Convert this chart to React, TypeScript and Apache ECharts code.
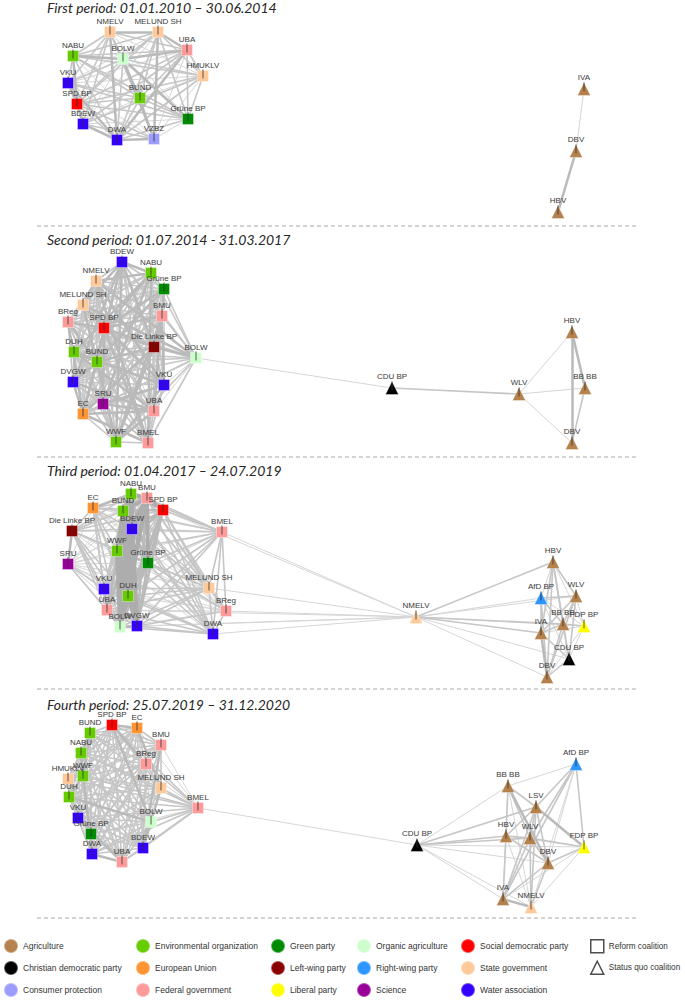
import React, { useEffect, useRef } from "react";
import * as echarts from "echarts";

// ---------- categories ----------
const categories = [
  "Agriculture", "Christian democratic party", "Consumer protection",
  "Environmental organization", "European Union", "Federal government",
  "Green party", "Left-wing party", "Liberal party",
  "Organic agriculture", "Right-wing party", "Science",
  "Social democratic party", "State government", "Water association",
];
const categoryColors = [
  "#B5824D", "#000000", "#9C9CFF",
  "#66CC00", "#FF9433", "#FF9A9A",
  "#008C00", "#8B0000", "#FFFF00",
  "#CCFFCC", "#2E97FF", "#990099",
  "#FF0000", "#FFC999", "#3300FF",
];

const actorType: Record<string, string> = {
  "NMELV": "State government", "MELUND SH": "State government", "HMUKLV": "State government",
  "NABU": "Environmental organization", "BUND": "Environmental organization",
  "DUH": "Environmental organization", "WWF": "Environmental organization",
  "BOLW": "Organic agriculture",
  "UBA": "Federal government", "BMU": "Federal government", "BReg": "Federal government", "BMEL": "Federal government",
  "VKU": "Water association", "BDEW": "Water association", "DWA": "Water association", "DVGW": "Water association",
  "SPD BP": "Social democratic party", "Grüne BP": "Green party", "VZBZ": "Consumer protection",
  "Die Linke BP": "Left-wing party", "SRU": "Science", "EC": "European Union",
  "IVA": "Agriculture", "DBV": "Agriculture", "HBV": "Agriculture", "WLV": "Agriculture",
  "BB BB": "Agriculture", "LSV": "Agriculture",
  "CDU BP": "Christian democratic party", "AfD BP": "Right-wing party", "FDP BP": "Liberal party",
};

// ---------- period titles ----------
const periodTitles = [
  "First period: 01.01.2010 \u2013 30.06.2014",
  "Second period: 01.07.2014 - 31.03.2017",
  "Third period: 01.04.2017 \u2013 24.07.2019",
  "Fourth period: 25.07.2019 \u2013 31.12.2020",
];

// ---------- layout coordinates of actors: [name, x, y, coalition R=reform S=status quo] ----------
type NodeRow = [string, number, number, "R" | "S"];
type EdgeRow = [string, string, number];

const period1Nodes: NodeRow[] = [
  ["NMELV", 110, 32, "R"], ["MELUND SH", 158, 32, "R"], ["NABU", 73, 56, "R"],
  ["BOLW", 123, 59, "R"], ["UBA", 187, 50, "R"], ["HMUKLV", 203, 76, "R"],
  ["VKU", 68, 83, "R"], ["SPD BP", 77, 104, "R"], ["BUND", 140, 98, "R"],
  ["Grüne BP", 188, 119, "R"], ["BDEW", 83, 124, "R"], ["DWA", 117, 140, "R"],
  ["VZBZ", 154, 139, "R"],
  ["IVA", 584, 89, "S"], ["DBV", 576, 151, "S"], ["HBV", 558, 212, "S"],
];
const period1Cluster = ["NMELV", "MELUND SH", "NABU", "BOLW", "UBA", "HMUKLV", "VKU", "SPD BP", "BUND", "Grüne BP", "BDEW", "DWA", "VZBZ"];
// upper-triangle tie strengths (0 = no tie)
const period1Ties = [
  "322212221232", "22321222123", "3222322121", "322223123", "21222231",
  "1212221", "322131", "22322", "2122", "121", "32", "3",
];
const period1Extra: EdgeRow[] = [["IVA", "DBV", 1], ["DBV", "HBV", 3]];

const period2Nodes: NodeRow[] = [
  ["BDEW", 122, 262, "R"], ["NABU", 151, 273, "R"], ["Grüne BP", 164, 289, "R"],
  ["NMELV", 96, 281, "R"], ["MELUND SH", 83, 305, "R"], ["BMU", 162, 316, "R"],
  ["BReg", 68, 322, "R"], ["SPD BP", 104, 328, "R"], ["Die Linke BP", 154, 347, "R"],
  ["BOLW", 196, 358, "R"], ["DUH", 74, 352, "R"], ["BUND", 97, 362, "R"],
  ["DVGW", 73, 382, "R"], ["VKU", 164, 385, "R"], ["SRU", 103, 404, "R"],
  ["EC", 83, 414, "R"], ["UBA", 154, 411, "R"], ["WWF", 116, 442, "R"],
  ["BMEL", 148, 443, "R"],
  ["CDU BP", 392, 388, "S"], ["WLV", 519, 394, "S"], ["HBV", 572, 332, "S"],
  ["BB BB", 585, 388, "S"], ["DBV", 572, 443, "S"],
];
const period2Cluster = ["BDEW", "NABU", "Grüne BP", "NMELV", "MELUND SH", "BMU", "BReg", "SPD BP", "Die Linke BP", "BOLW", "DUH", "BUND", "DVGW", "VKU", "SRU", "EC", "UBA", "WWF", "BMEL"];
const period2Ties = [
  "322322232223223232", "23212322312232123", "2222312232122321", "322213221322123",
  "22323122312232", "2332212322132", "322132223222", "32232232223", "3232223232",
  "222122122", "32322322", "3223232", "223322", "32232", "2322", "323", "32", "2",
];
const period2Extra: EdgeRow[] = [
  ["BOLW", "CDU BP", 1], ["CDU BP", "WLV", 2], ["WLV", "HBV", 1], ["WLV", "BB BB", 1],
  ["WLV", "DBV", 1], ["HBV", "DBV", 3], ["HBV", "BB BB", 3], ["BB BB", "DBV", 2],
];

const period3Nodes: NodeRow[] = [
  ["NABU", 131, 494, "R"], ["BMU", 147, 498, "R"], ["EC", 93, 508, "R"],
  ["BUND", 123, 511, "R"], ["SPD BP", 163, 510, "R"], ["Die Linke BP", 72, 531, "R"],
  ["BDEW", 132, 529, "R"], ["BMEL", 222, 532, "R"], ["WWF", 117, 551, "R"],
  ["SRU", 68, 564, "R"], ["Grüne BP", 148, 563, "R"], ["VKU", 104, 589, "R"],
  ["DUH", 128, 596, "R"], ["MELUND SH", 209, 588, "R"], ["UBA", 107, 610, "R"],
  ["BReg", 226, 611, "R"], ["BOLW", 120, 627, "R"], ["DVGW", 137, 626, "R"],
  ["DWA", 213, 634, "R"],
  ["NMELV", 416, 617, "S"], ["HBV", 553, 562, "S"], ["AfD BP", 541, 598, "S"],
  ["WLV", 576, 596, "S"], ["BB BB", 563, 624, "S"], ["FDP BP", 584, 626, "S"],
  ["IVA", 541, 633, "S"], ["CDU BP", 569, 659, "S"], ["DBV", 547, 677, "S"],
];
const period3Cluster = ["NABU", "BMU", "EC", "BUND", "SPD BP", "Die Linke BP", "BDEW", "BMEL", "WWF", "SRU", "Grüne BP", "VKU", "DUH", "MELUND SH", "UBA", "BReg", "BOLW", "DVGW", "DWA"];
const period3Ties = [
  "434324241324231442", "24414241424232432", "2222121222121221", "324241324221442",
  "23231323222332", "2123222121221", "241324221442", "21212212222", "1324221442",
  "121121111", "23222332", "2231222", "221442", "22222", "1322", "122", "32", "2",
];
const period3Extra: EdgeRow[] = [
  ["NMELV", "BMEL", 1], ["NMELV", "MELUND SH", 1], ["NMELV", "BReg", 1], ["NMELV", "DWA", 1],
  ["NMELV", "DVGW", 1], ["NMELV", "BOLW", 1], ["NMELV", "UBA", 1], ["NMELV", "SPD BP", 1],
  ["NMELV", "HBV", 2], ["NMELV", "AfD BP", 1], ["NMELV", "WLV", 1], ["NMELV", "BB BB", 2],
  ["NMELV", "IVA", 2], ["NMELV", "FDP BP", 1], ["NMELV", "CDU BP", 1], ["NMELV", "DBV", 1],
  ["HBV", "AfD BP", 1], ["HBV", "WLV", 2], ["HBV", "BB BB", 2], ["HBV", "FDP BP", 1],
  ["HBV", "IVA", 2], ["HBV", "CDU BP", 2], ["HBV", "DBV", 2],
  ["AfD BP", "WLV", 2], ["AfD BP", "BB BB", 2], ["AfD BP", "FDP BP", 1], ["AfD BP", "IVA", 2],
  ["AfD BP", "CDU BP", 1], ["AfD BP", "DBV", 2],
  ["WLV", "BB BB", 2], ["WLV", "FDP BP", 1], ["WLV", "IVA", 2], ["WLV", "CDU BP", 2], ["WLV", "DBV", 2],
  ["BB BB", "FDP BP", 2], ["BB BB", "IVA", 2], ["BB BB", "CDU BP", 2], ["BB BB", "DBV", 2],
  ["FDP BP", "IVA", 1], ["FDP BP", "CDU BP", 1], ["FDP BP", "DBV", 1],
  ["IVA", "CDU BP", 2], ["IVA", "DBV", 3], ["CDU BP", "DBV", 2],
];

const period4Nodes: NodeRow[] = [
  ["BUND", 90, 733, "R"], ["SPD BP", 112, 725, "R"], ["EC", 137, 728, "R"],
  ["BMU", 161, 745, "R"], ["NABU", 81, 753, "R"], ["BReg", 146, 764, "R"],
  ["WWF", 83, 776, "R"], ["HMUKLV", 68, 779, "R"], ["MELUND SH", 161, 788, "R"],
  ["DUH", 69, 797, "R"], ["BMEL", 198, 808, "R"], ["VKU", 78, 818, "R"],
  ["BOLW", 151, 822, "R"], ["Grüne BP", 91, 834, "R"], ["BDEW", 143, 848, "R"],
  ["DWA", 92, 854, "R"], ["UBA", 122, 862, "R"],
  ["AfD BP", 576, 764, "S"], ["BB BB", 508, 786, "S"], ["LSV", 536, 807, "S"],
  ["CDU BP", 417, 845, "S"], ["HBV", 506, 836, "S"], ["WLV", 530, 838, "S"],
  ["FDP BP", 584, 847, "S"], ["DBV", 548, 863, "S"], ["IVA", 503, 899, "S"],
  ["NMELV", 531, 907, "S"],
];
const period4Cluster = ["BUND", "SPD BP", "EC", "BMU", "NABU", "BReg", "WWF", "HMUKLV", "MELUND SH", "DUH", "BMEL", "VKU", "BOLW", "Grüne BP", "BDEW", "DWA", "UBA"];
const period4Ties = [
  "2223232221222222", "322322212232222", "22222321212222", "2212221212322",
  "232222122222", "12222212222", "2232222132", "122212212", "22122322",
  "2232222", "221222", "22223", "2322", "222", "22", "3",
];
const period4Extra: EdgeRow[] = [
  ["BMEL", "CDU BP", 1],
  ["CDU BP", "BB BB", 1], ["CDU BP", "LSV", 2], ["CDU BP", "HBV", 2], ["CDU BP", "WLV", 2],
  ["CDU BP", "DBV", 1], ["CDU BP", "FDP BP", 1], ["CDU BP", "IVA", 1], ["CDU BP", "NMELV", 1],
  ["AfD BP", "BB BB", 1], ["AfD BP", "LSV", 2], ["AfD BP", "WLV", 2], ["AfD BP", "DBV", 1],
  ["AfD BP", "FDP BP", 2], ["AfD BP", "IVA", 2], ["AfD BP", "NMELV", 1],
  ["BB BB", "LSV", 2], ["BB BB", "HBV", 2], ["BB BB", "WLV", 2], ["BB BB", "DBV", 3],
  ["BB BB", "IVA", 1], ["BB BB", "NMELV", 1],
  ["LSV", "HBV", 2], ["LSV", "WLV", 2], ["LSV", "DBV", 2], ["LSV", "FDP BP", 3],
  ["LSV", "IVA", 2], ["LSV", "NMELV", 2],
  ["HBV", "WLV", 2], ["HBV", "DBV", 2], ["HBV", "FDP BP", 1], ["HBV", "IVA", 2], ["HBV", "NMELV", 1],
  ["WLV", "DBV", 2], ["WLV", "FDP BP", 2], ["WLV", "IVA", 2], ["WLV", "NMELV", 2],
  ["DBV", "FDP BP", 2], ["DBV", "IVA", 2], ["DBV", "NMELV", 2],
  ["FDP BP", "IVA", 1], ["FDP BP", "NMELV", 1], ["IVA", "NMELV", 3],
];

const periods = [
  { nodes: period1Nodes, cluster: period1Cluster, ties: period1Ties, extra: period1Extra },
  { nodes: period2Nodes, cluster: period2Cluster, ties: period2Ties, extra: period2Extra },
  { nodes: period3Nodes, cluster: period3Cluster, ties: period3Ties, extra: period3Extra },
  { nodes: period4Nodes, cluster: period4Cluster, ties: period4Ties, extra: period4Extra },
];

// ---------- styles ----------
const PAGE_W = 685;
const PAGE_H = 1001;
const titleTops = [0, 232, 463, 697];
const separatorYs = [226, 457, 689, 918];
const tieWidths = [1, 1.6, 2.5, 4];
const tieColors = ["#d6d6d6", "#c6c6c6", "#bababa", "#adadad"];
const labelFont = "'Liberation Sans', Arial, sans-serif";

function buildOption() {
  const tieBuckets: any[][] = [[], [], [], []];
  const nodesByCat: Record<string, any[]> = {};
  categories.forEach((c) => (nodesByCat[c] = []));
  const ticks: any[] = [];

  periods.forEach((p) => {
    const pos: Record<string, [number, number]> = {};
    p.nodes.forEach(([name, x, y, coal]) => {
      pos[name] = [x, y];
      const cat = actorType[name];
      nodesByCat[cat].push({
        name,
        value: [x, y],
        symbol: coal === "R" ? "rect" : "triangle",
        symbolSize: coal === "R" ? 11 : 13,
      });
      ticks.push({ name, value: [x, y] });
    });
    const edges: EdgeRow[] = [];
    p.ties.forEach((row, i) => {
      for (let j = 0; j < row.length; j++) {
        const w = Number(row[j]);
        if (w > 0) edges.push([p.cluster[i], p.cluster[i + 1 + j], w]);
      }
    });
    p.extra.forEach((e) => edges.push(e));
    edges.forEach(([a, b, w]) => {
      if (!pos[a] || !pos[b]) return;
      tieBuckets[w - 1].push({ coords: [pos[a], pos[b]] });
    });
  });

  const series: any[] = [];
  tieBuckets.forEach((data, i) => {
    series.push({
      type: "lines",
      name: "ties" + (i + 1),
      coordinateSystem: "cartesian2d",
      silent: true,
      z: 1 + i * 0.01,
      lineStyle: { width: tieWidths[i], color: tieColors[i], opacity: 1, curveness: 0 },
      data,
    });
  });
  categories.forEach((cat, ci) => {
    series.push({
      type: "scatter",
      name: cat,
      z: 3,
      silent: true,
      itemStyle: { color: categoryColors[ci], opacity: 1, borderColor: "rgba(255,255,255,0.35)", borderWidth: 1 },
      label: {
        show: true,
        position: "top",
        distance: 1,
        formatter: "{b}",
        fontSize: 8,
        color: "#3a3a3a",
        fontFamily: labelFont,
      },
      labelLayout: { hideOverlap: false },
      data: nodesByCat[cat],
    });
  });
  series.push({
    type: "scatter",
    name: "label-ticks",
    z: 4,
    silent: true,
    symbol: "rect",
    symbolSize: [1, 9],
    symbolOffset: [0, -2],
    itemStyle: { color: "#333" },
    data: ticks,
  });
  series.push({ type: "scatter", name: "Reform coalition", data: [], itemStyle: { color: "#fff" } });
  series.push({ type: "scatter", name: "Status quo coalition", data: [], itemStyle: { color: "#fff" } });

  const legendCols = [
    { left: 3, names: categories.slice(0, 3) },
    { left: 135, names: categories.slice(3, 6) },
    { left: 270, names: categories.slice(6, 9) },
    { left: 356, names: categories.slice(9, 12) },
    { left: 460, names: categories.slice(12, 15) },
  ];
  const legendTextStyle = { fontSize: 8.5, color: "#333", fontFamily: labelFont };
  const legend: any[] = legendCols.map((c) => ({
    orient: "vertical",
    left: c.left,
    top: 938,
    itemWidth: 14,
    itemHeight: 14,
    itemGap: 6,
    icon: "circle",
    selectedMode: false,
    padding: 0,
    textStyle: legendTextStyle,
    data: c.names,
  }));
  legend.push({
    orient: "vertical",
    left: 590,
    top: 939,
    itemWidth: 13,
    itemHeight: 13,
    itemGap: 7,
    selectedMode: false,
    padding: 0,
    textStyle: { ...legendTextStyle, fontSize: 8.2 },
    data: [
      { name: "Reform coalition", icon: "rect", itemStyle: { color: "#fff", borderColor: "#222", borderWidth: 1.5 } },
      { name: "Status quo coalition", icon: "triangle", itemStyle: { color: "#fff", borderColor: "#222", borderWidth: 1.5 } },
    ],
  });

  return {
    animation: false,
    backgroundColor: "#ffffff",
    grid: { left: 0, right: 0, top: 0, bottom: 0 },
    xAxis: { type: "value", min: 0, max: PAGE_W, show: false },
    yAxis: { type: "value", min: 0, max: PAGE_H, inverse: true, show: false },
    title: periodTitles.map((t, i) => ({
      text: t,
      left: 47,
      top: titleTops[i],
      padding: 0,
      textStyle: { fontSize: 14, fontStyle: "italic", fontWeight: "normal", color: "#262626", fontFamily: "Lato, 'Open Sans', sans-serif" },
    })),
    legend,
    graphic: separatorYs.map((y) => ({
      type: "line",
      silent: true,
      shape: { x1: 37, y1: y, x2: 637, y2: y },
      style: { stroke: "#a8a8a8", lineWidth: 1, lineDash: [4, 3] },
    })),
    series,
  };
}

export default function App() {
  const ref = useRef<HTMLDivElement>(null);
  useEffect(() => {
    document.body.style.margin = "0";
    if (!ref.current) return;
    const chart = echarts.init(ref.current, undefined, { renderer: "svg" });
    chart.setOption(buildOption() as any);
    return () => chart.dispose();
  }, []);
  return <div ref={ref} style={{ width: PAGE_W, height: PAGE_H }} />;
}
